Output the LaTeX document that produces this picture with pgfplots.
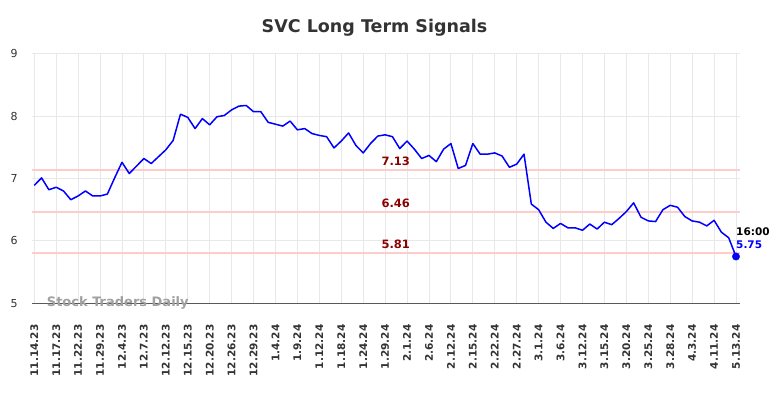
\documentclass[border=0pt]{standalone}
\usepackage{fontspec}
\setmainfont{DejaVu Sans}
\usepackage{pgfplots}
\pgfplotsset{compat=1.18}
\definecolor{titlegray}{RGB}{51,51,51}
\definecolor{levelpink}{RGB}{255,204,204}
\definecolor{leveldark}{RGB}{139,0,0}
\definecolor{gridgray}{RGB}{232,232,232}
\definecolor{wmgray}{RGB}{160,160,160}
\begin{document}
\begin{tikzpicture}
\useasboundingbox (0,0) rectangle (784pt,398pt);
\node[anchor=base, font=\fontsize{17.5}{20}\selectfont\bfseries, text=titlegray] at (374.5pt,365.3pt) {SVC Long Term Signals};
\begin{axis}[
  at={(31.7pt,94.7pt)}, anchor=south west,
  scale only axis, width=708.3pt, height=249.6pt,
  xmin=-0.35, xmax=96.55, ymin=5, ymax=9,
  axis x line*=bottom, axis y line*=left,
  x axis line style={draw=black!65, line width=1pt, -},
  y axis line style={draw=none},
  xtick={0,3,...,96},
  xticklabels={11.14.23,11.17.23,11.22.23,11.29.23,12.4.23,12.7.23,12.12.23,12.15.23,12.20.23,12.26.23,12.29.23,1.4.24,1.9.24,1.12.24,1.18.24,1.24.24,1.29.24,2.1.24,2.6.24,2.12.24,2.15.24,2.22.24,2.27.24,3.1.24,3.6.24,3.12.24,3.15.24,3.20.24,3.25.24,3.28.24,4.3.24,4.11.24,5.13.24},
  ytick={5,6,7,8,9},
  major tick length=0pt,
  grid=major,
  grid style={draw=gridgray, line width=0.9pt},
  /pgf/number format/assume math mode=true,
  x tick label style={rotate=90, anchor=east, inner sep=0pt, font=\fontsize{10.5}{12}\selectfont\bfseries, text=black!80},
  xticklabel shift=21pt,
  y tick label style={anchor=east, inner sep=0pt, xshift=-14pt, font=\fontsize{11}{13}\selectfont, text=black!80},
  clip=false,
]
\addplot[draw=levelpink, line width=2pt] coordinates {(-0.35,7.13) (96.55,7.13)};
\addplot[draw=levelpink, line width=2pt] coordinates {(-0.35,6.46) (96.55,6.46)};
\addplot[draw=levelpink, line width=2pt] coordinates {(-0.35,5.81) (96.55,5.81)};
\addplot[draw=blue, line width=1.5pt, line join=round] coordinates {
(0,6.89)(1,7.01)(2,6.82)(3,6.86)(4,6.80)(5,6.66)(6,6.72)(7,6.80)(8,6.72)(9,6.72)
(10,6.75)(11,7.01)(12,7.26)(13,7.08)(14,7.20)(15,7.32)(16,7.24)(17,7.35)(18,7.46)(19,7.61)
(20,8.03)(21,7.98)(22,7.80)(23,7.96)(24,7.86)(25,7.99)(26,8.01)(27,8.10)(28,8.16)(29,8.17)
(30,8.07)(31,8.07)(32,7.90)(33,7.87)(34,7.84)(35,7.92)(36,7.78)(37,7.80)(38,7.72)(39,7.69)
(40,7.67)(41,7.49)(42,7.60)(43,7.73)(44,7.53)(45,7.41)(46,7.56)(47,7.68)(48,7.70)(49,7.67)
(50,7.48)(51,7.60)(52,7.47)(53,7.32)(54,7.37)(55,7.27)(56,7.47)(57,7.56)(58,7.16)(59,7.21)
(60,7.56)(61,7.39)(62,7.39)(63,7.41)(64,7.36)(65,7.18)(66,7.23)(67,7.39)(68,6.59)(69,6.50)
(70,6.30)(71,6.20)(72,6.28)(73,6.21)(74,6.21)(75,6.17)(76,6.27)(77,6.19)(78,6.30)(79,6.26)
(80,6.36)(81,6.47)(82,6.61)(83,6.38)(84,6.32)(85,6.31)(86,6.50)(87,6.57)(88,6.54)(89,6.39)
(90,6.32)(91,6.30)(92,6.24)(93,6.33)(94,6.14)(95,6.05)(96,5.75)
};
\addplot[only marks, mark=*, mark size=3.7pt, color=blue] coordinates {(96,5.75)};
\node[anchor=base, font=\fontsize{11.5}{13}\selectfont\bfseries, text=leveldark, yshift=4.7pt] at (axis cs:49.45,7.13) {7.13};
\node[anchor=base, font=\fontsize{11.5}{13}\selectfont\bfseries, text=leveldark, yshift=4.7pt] at (axis cs:49.45,6.46) {6.46};
\node[anchor=base, font=\fontsize{11.5}{13}\selectfont\bfseries, text=leveldark, yshift=4.7pt] at (axis cs:49.45,5.81) {5.81};
\node[anchor=base west, inner sep=0pt, font=\fontsize{10.5}{12}\selectfont\bfseries, text=black, yshift=20.8pt] at (axis cs:96,5.75) {16:00};
\node[anchor=base west, inner sep=0pt, font=\fontsize{10.5}{12}\selectfont\bfseries, text=blue, yshift=7.5pt] at (axis cs:96,5.75) {5.75};
\node[anchor=base west, inner sep=0pt, font=\fontsize{13}{15}\selectfont\bfseries, text=wmgray, xshift=15pt, yshift=-3.7pt] at (rel axis cs:0,0) {Stock Traders Daily};
\end{axis}
\end{tikzpicture}
\end{document}
